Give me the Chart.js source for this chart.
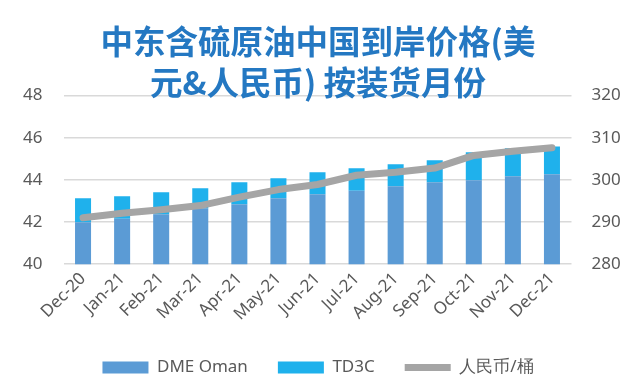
<!DOCTYPE html>
<html>
<head>
<meta charset="utf-8">
<script src="https://cdn.jsdelivr.net/npm/chart.js@4.4.1/dist/chart.umd.min.js"></script>
<style>
  html, body { margin: 0; padding: 0; background: #fff; }
  #wrap { width: 636px; height: 392px; }
</style>
</head>
<body>
<div id="wrap"><canvas id="Chart"></canvas></div>
<script>
const months = ['Dec-20', 'Jan-21', 'Feb-21', 'Mar-21', 'Apr-21', 'May-21', 'Jun-21',
                'Jul-21', 'Aug-21', 'Sep-21', 'Oct-21', 'Nov-21', 'Dec-21'];
// USD/bbl, stacked
const dmeOman = [41.99, 42.16, 42.37, 42.65, 42.84, 43.13, 43.32, 43.49, 43.70, 43.89, 43.98, 44.17, 44.27];
const td3c    = [1.14, 1.06, 1.04, 0.95, 1.05, 0.95, 1.04, 1.06, 1.04, 1.04, 1.33, 1.33, 1.32];
// RMB/bbl (right axis)
const rmb     = [291.0, 292.1, 292.9, 293.9, 295.9, 297.7, 298.9, 301.1, 301.8, 302.8, 305.8, 306.8, 307.6];
const leftTicks = [40, 42, 44, 46, 48];
const rightTicks = [280, 290, 300, 310, 320];

const tickFont = { family: 'Noto Sans', size: 17 };
const grey = '#595959';

const ctx = document.getElementById('Chart').getContext('2d');
const chart = new Chart(ctx, {
    type: 'bar',
    data: {
        labels: months,
        datasets: [{
            label: 'DME Oman',
            data: dmeOman,
            backgroundColor: '#5b9bd5',
            pointStyle: 'rect',
            yAxisID: 'y',
            order: 2
        }, {
            label: 'TD3C',
            data: td3c,
            backgroundColor: '#1fb1ec',
            pointStyle: 'rect',
            yAxisID: 'y',
            order: 2
        }, {
            type: 'line',
            label: '人民币/桶',
            data: rmb,
            borderColor: '#a5a5a5',
            backgroundColor: '#a5a5a5',
            borderWidth: 7,
            borderCapStyle: 'round',
            borderJoinStyle: 'round',
            pointRadius: 0,
            pointStyle: 'line',
            tension: 0,
            yAxisID: 'y1',
            order: 1
        }]
    },
    options: {
        responsive: true,
        maintainAspectRatio: false,
        animation: false,
        layout: { padding: { left: 0, right: 0, bottom: 6 } },
        datasets: {
            bar: { barPercentage: 0.82, categoryPercentage: 0.5 }
        },
        scales: {
            x: {
                stacked: true,
                grid: { display: false, drawTicks: false },
                border: { display: false },
                ticks: { font: { family: 'Noto Sans', size: 17 }, color: grey, maxRotation: 45, minRotation: 45, autoSkip: false, padding: 4.5 }
            },
            y: {
                stacked: true,
                min: 40, max: 48,
                afterBuildTicks: s => { s.ticks = leftTicks.map(v => ({ value: v })); },
                afterFit: s => { s.width = 63.5; },
                grid: { color: '#d9d9d9', lineWidth: 1.5, drawTicks: false },
                border: { display: false },
                ticks: { font: tickFont, color: grey, padding: 21 }
            },
            y1: {
                position: 'right',
                min: 280, max: 320,
                afterBuildTicks: s => { s.ticks = rightTicks.map(v => ({ value: v })); },
                afterFit: s => { s.width = 64.5; },
                grid: { display: false, drawTicks: false },
                border: { display: false },
                ticks: { font: tickFont, color: grey, padding: 20 }
            }
        },
        plugins: {
            title: {
                display: true,
                text: ['中东含硫原油中国到岸价格(美', '元&人民币) 按装货月份'],
                color: '#2478c2',
                font: { family: 'Noto Sans CJK SC', size: 32.5, weight: 'bold', lineHeight: 1.24 },
                padding: { top: 22, bottom: -7 }
            },
            legend: {
                position: 'bottom',
                labels: {
                    usePointStyle: true,
                    pointStyleWidth: 46,
                    boxWidth: 46,
                    boxHeight: 12,
                    padding: 30,
                    color: grey,
                    font: { family: 'Noto Sans', size: 17 },
                    sort: (a, b) => a.datasetIndex - b.datasetIndex
                }
            },
            tooltip: { enabled: false }
        }
    }
});
</script>
</body>
</html>
